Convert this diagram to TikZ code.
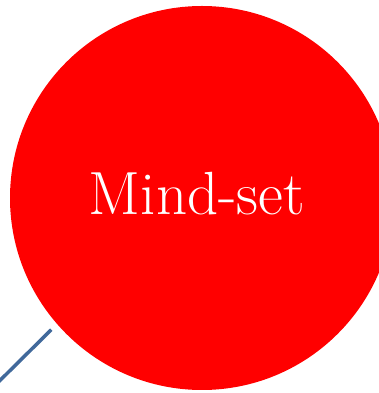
\documentclass[tikz,border=0pt]{standalone}
\usepackage{fontspec}
\usepackage{xcolor}
\definecolor{linkblue}{RGB}{65,105,155}
\begin{document}
\begin{tikzpicture}[x=1pt,y=1pt]
            \useasboundingbox (0,0) rectangle (379,393);
            \node[circle,fill=red,inner sep=0pt,minimum size=384pt] at (202,195) (mindset) {};
            \node[text=white,font=\fontsize{61}{67}\selectfont] at (197,199) (mindsetlabel) {Mind-set};
            \coordinate (tail) at (-20,-7.2);
            \draw[linkblue,line width=3.5pt,shorten >=8pt] (tail) -- (mindset.221.4);
          \end{tikzpicture}
\end{document}
